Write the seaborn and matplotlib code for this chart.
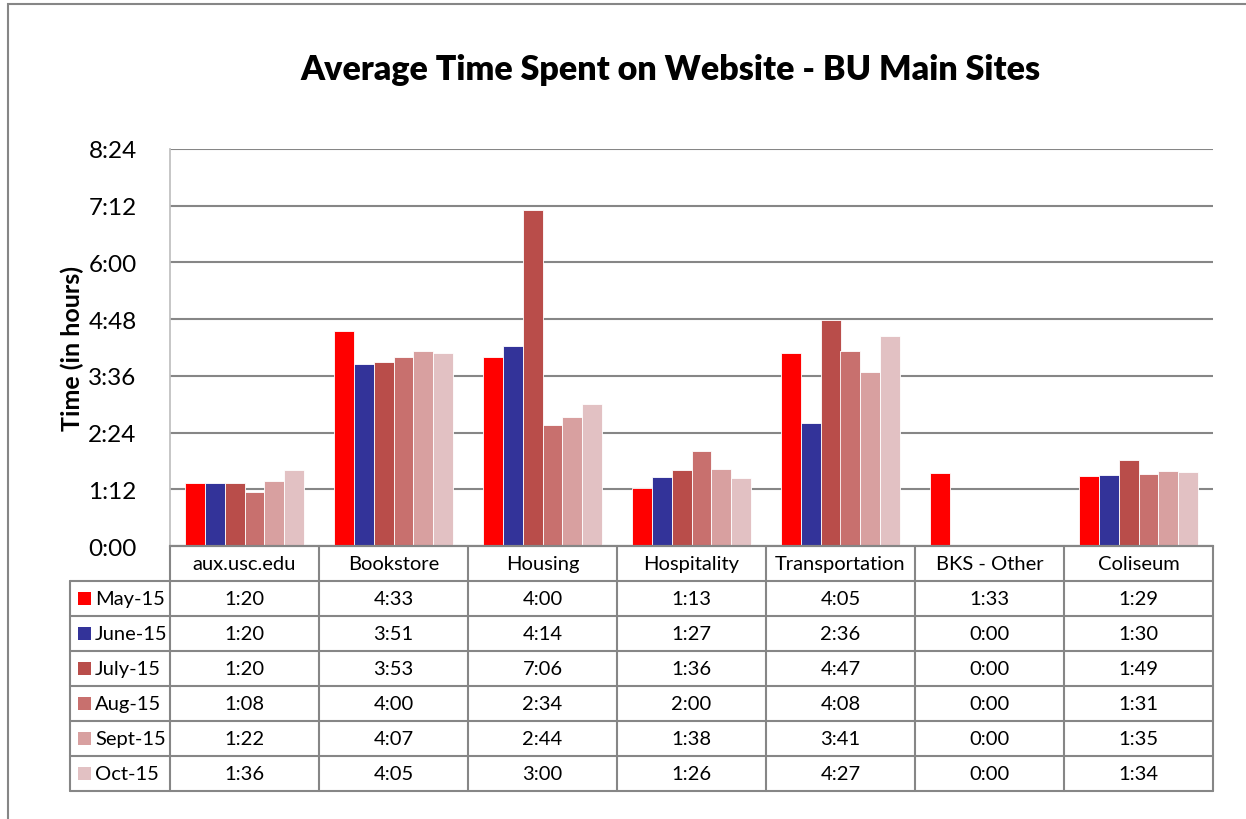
import pandas as pd
import matplotlib
matplotlib.use("Agg")
import matplotlib.pyplot as plt
from matplotlib.patches import Rectangle
from matplotlib.ticker import FuncFormatter
import seaborn as sns

sns.set_theme(style="white")
plt.rcParams['font.family'] = ['Lato', 'DejaVu Sans']
plt.rcParams['text.color'] = 'black'
plt.rcParams['axes.labelcolor'] = 'black'
plt.rcParams['ytick.color'] = 'black'

# Data (values shown in h:mm, stored as minutes)
sites = ['aux.usc.edu', 'Bookstore', 'Housing', 'Hospitality', 'Transportation', 'BKS - Other', 'Coliseum']
months = ['May-15', 'June-15', 'July-15', 'Aug-15', 'Sept-15', 'Oct-15']
may_15 = ['1:20', '4:33', '4:00', '1:13', '4:05', '1:33', '1:29']
june_15 = ['1:20', '3:51', '4:14', '1:27', '2:36', '0:00', '1:30']
july_15 = ['1:20', '3:53', '7:06', '1:36', '4:47', '0:00', '1:49']
aug_15 = ['1:08', '4:00', '2:34', '2:00', '4:08', '0:00', '1:31']
sept_15 = ['1:22', '4:07', '2:44', '1:38', '3:41', '0:00', '1:35']
oct_15 = ['1:36', '4:05', '3:00', '1:26', '4:27', '0:00', '1:34']
yticks = [0, 72, 144, 216, 288, 360, 432, 504]

colors = ['#FF0000', '#333399', '#B94D4A', '#C8706E', '#D8A0A0', '#E2C1C3']
series = [may_15, june_15, july_15, aug_15, sept_15, oct_15]


def to_min(s):
    h, m = s.split(':')
    return int(h) * 60 + int(m)


rows = []
for month, vals in zip(months, series):
    for site, v in zip(sites, vals):
        rows.append({'Site': site, 'Month': month, 'Minutes': to_min(v)})
df = pd.DataFrame(rows)

W, H = 1246, 820
fig = plt.figure(figsize=(W / 100, H / 100), dpi=100)

# Chart area
ax = fig.add_axes([170 / W, 1 - 547 / H, 1043 / W, 397 / H])
sns.barplot(data=df, x='Site', y='Minutes', hue='Month', order=sites, hue_order=months,
            palette=colors, saturation=1, width=0.8, edgecolor='white', linewidth=0.6,
            legend=False, ax=ax)
ax.set_xlim(-0.5, 6.5)
ax.set_ylim(0, 504)
ax.set_yticks(yticks)
ax.yaxis.set_major_formatter(FuncFormatter(lambda v, p: f"{int(v) // 60}:{int(v) % 60:02d}"))
ax.tick_params(axis='y', labelsize=17.5, length=0, pad=24)
ax.set_xticks([])
ax.set_xlabel('')
ax.set_ylabel('Time (in hours)', fontsize=18, fontweight='bold')
ax.yaxis.set_label_coords(-86 / 1043, 0.5)
ax.grid(axis='y', color='#868686', linewidth=1.5)
ax.set_axisbelow(True)
for s in ['top', 'right']:
    ax.spines[s].set_visible(False)
ax.spines['left'].set_color('#BFBFBF')
ax.spines['bottom'].set_color('#868686')
ax.spines['bottom'].set_linewidth(1.5)

fig.text(670 / W, 1 - 70 / H, 'Average Time Spent on Website - BU Main Sites',
         ha='center', va='center', fontsize=24.5, fontweight='heavy')

# Data table
tax = fig.add_axes([70 / W, 1 - 792 / H, 1143 / W, 245 / H])
xmin = -0.5 - 100 / 149
tax.set_xlim(xmin, 6.5)
tax.set_ylim(7, 0)
tax.axis('off')
lc, lw = '#868686', 1.5
tax.plot([-0.5, 6.5], [0, 0], color=lc, lw=lw, clip_on=False)
for r in range(1, 8):
    tax.plot([xmin, 6.5], [r, r], color=lc, lw=lw, clip_on=False)
tax.plot([xmin, xmin], [1, 7], color=lc, lw=lw, clip_on=False)
for k in range(8):
    tax.plot([-0.5 + k, -0.5 + k], [0, 7], color=lc, lw=lw, clip_on=False)

fs = 14.5
for k, site in enumerate(sites):
    tax.text(k, 0.5, site, ha='center', va='center', fontsize=fs)
for r, (month, vals, c) in enumerate(zip(months, series, colors), start=1):
    tax.add_patch(Rectangle((xmin + 8 / 149, r + 0.5 - 6.5 / 35), 13 / 149, 13 / 35,
                            facecolor=c, edgecolor='none'))
    tax.text(xmin + 25 / 149, r + 0.5, month, ha='left', va='center', fontsize=fs)
    for k, v in enumerate(vals):
        tax.text(k, r + 0.5, v, ha='center', va='center', fontsize=fs)

# Outer chart border
fig.patches.append(Rectangle((8 / W, -0.01), 1.0, 1 - 5 / H + 0.01, transform=fig.transFigure,
                             fill=False, edgecolor='#868686', linewidth=1.5))

fig.savefig('out.png', dpi=100)
